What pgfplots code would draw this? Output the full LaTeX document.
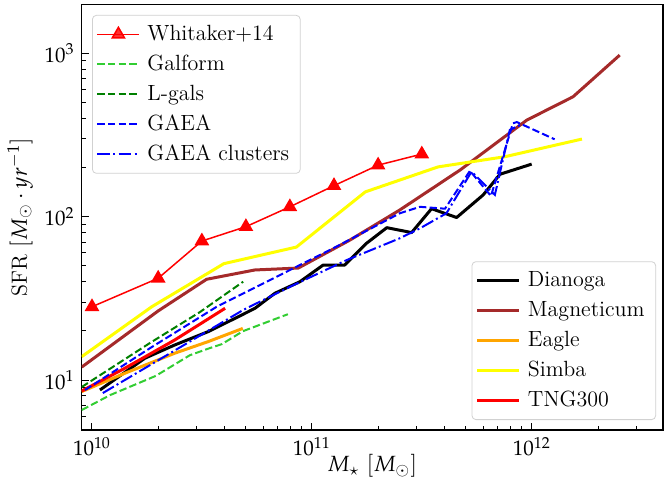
\documentclass[border=0pt]{standalone}
\usepackage{mathpazo}
\usepackage{pgfplots}
\pgfplotsset{compat=1.18}

\definecolor{limegreen}{HTML}{32CD32}
\definecolor{mplgreen}{HTML}{008000}
\definecolor{mplbrown}{HTML}{A52A2A}
\definecolor{mplorange}{HTML}{FFA500}
\definecolor{mplyellow}{HTML}{FFFF00}

\tikzset{
  simline/.style={line width=1.5pt, line join=round},
  samline/.style={line width=1pt, dash pattern=on 3.7pt off 1.6pt},
  samdashdot/.style={line width=1pt, dash pattern=on 6.4pt off 1.6pt on 1pt off 1.6pt},
}

% shared frame for both overlaid axes
\pgfplotsset{
  every axis/.append style={
    xmode=log, ymode=log,
    xmin=8.98e9, xmax=3.95e12, ymin=4.94, ymax=2000,
    scale only axis, width=290.7pt, height=212.9pt,
    tick align=inside, xtick pos=bottom, ytick pos=left,
    xtick={1e10,1e11,1e12}, ytick={10,100,1000},
    minor xtick={2e10,3e10,4e10,5e10,6e10,7e10,8e10,9e10,
                 2e11,3e11,4e11,5e11,6e11,7e11,8e11,9e11,2e12,3e12},
    minor ytick={6,7,8,9,20,30,40,50,60,70,80,90,200,300,400,500,600,700,800,900},
    major tick length=3.5pt, minor tick length=2pt,
    every tick/.style={black, line width=0.5pt},
    axis line style={line width=0.6pt},
    tick label style={font=\fontsize{10.5}{12.6}\selectfont},
    label style={font=\fontsize{11}{13.2}\selectfont},
    legend cell align=left,
    legend style={draw=black!18, rounded corners=2pt, fill=white,
      fill opacity=0.8, text opacity=1, inner xsep=2pt, inner ysep=2pt,
      font=\fontsize{11}{13.2}\selectfont,
      nodes={inner xsep=3.5pt, inner ysep=2pt, text height=8.5pt, text depth=2.5pt}},
    legend image code/.code={%
      \draw[mark repeat=2,mark phase=2,##1] plot coordinates {(0pt,0pt) (10.5pt,0pt) (21pt,0pt)};},
  },
}

\begin{document}
\begin{tikzpicture}
% simulations
\begin{axis}[
  xlabel={$M_{\star}\ [M_{\odot}]$},
  ylabel={SFR $[M_{\odot} \cdot yr^{-1}]$},
  xlabel style={at={(axis description cs:0.5,-0.0846)}, anchor=center},
  ylabel style={at={(axis description cs:-0.106,0.5)}, anchor=center},
  legend style={at={(0.988,0.0235)}, anchor=south east},
]
\addplot[simline, black] coordinates {
 (1.087e10,8.69) (1.74e10,13.6) (2.38e10,16.4) (3.38e10,19.8) (4.62e10,24.4)
 (5.51e10,27.5) (6.79e10,34.0) (8.82e10,40.0) (1.125e11,50.6) (1.41e11,50.6)
 (1.77e11,68.7) (2.19e11,85.7) (2.84e11,80.0) (3.5e11,112) (4.55e11,98.9)
 (6.01e11,136) (7.16e11,182) (9.98e11,210)};
\addlegendentry{Dianoga}
\addplot[simline, mplbrown] coordinates {
 (8.98e9,12.0) (2.0e10,26.5) (3.32e10,41.4) (5.5e10,47.2) (8.67e10,48.5)
 (1.49e11,72) (2.51e11,110) (4.71e11,193) (9.5e11,391) (1.54e12,543) (2.51e12,977)};
\addlegendentry{Magneticum}
\addplot[simline, mplorange] coordinates {
 (8.98e9,8.5) (1.41e10,11.0) (2.38e10,14.6) (3.38e10,17.2) (4.85e10,20.7)};
\addlegendentry{Eagle}
\addplot[simline, mplyellow] coordinates {
 (8.98e9,13.9) (1.87e10,28.1) (3.98e10,51.6) (8.5e10,65.2) (1.75e11,142)
 (3.75e11,202) (7.53e11,233) (1.69e12,299)};
\addlegendentry{Simba}
\addplot[simline, red] coordinates {
 (8.98e9,8.57) (1.41e10,11.8) (2.38e10,17.6) (4.03e10,27.5)};
\addlegendentry{TNG300}
\end{axis}

% observations and semi-analytic models
\begin{axis}[hide axis,
  legend style={at={(0.0177,0.975)}, anchor=north west},
]
\addplot[red, line width=0.75pt, mark=triangle*, mark size=3.5pt,
  mark options={solid}] coordinates {
 (1.0e10,28.1) (2.0e10,42) (3.16e10,71) (5.01e10,86.9) (7.94e10,115)
 (1.26e11,155) (2.0e11,207) (3.16e11,242)};
\addlegendentry{Whitaker+14}
\addplot[samline, limegreen] coordinates {
 (8.98e9,6.55) (1.21e10,8.09) (1.95e10,10.6) (2.79e10,14.2) (3.44e10,15.7)
 (3.9e10,16.6) (4.85e10,19.9) (7.78e10,25.3)};
\addlegendentry{Galform}
\addplot[samline, mplgreen] coordinates {
 (8.98e9,9.06) (1.84e10,16.9) (3.1e10,26.1) (4.87e10,40.0)};
\addlegendentry{L-gals}
\addplot[samline, blue] coordinates {
 (9.3e9,8.69) (1.84e10,15.7) (3.69e10,28.1) (8.51e10,49.4) (1.29e11,65.5)
 (2.51e11,105) (3.1e11,115) (4.03e11,112) (5.23e11,191) (6.52e11,134)
 (8.2e11,373) (8.55e11,380) (1.27e12,298)};
\addlegendentry{GAEA}
\addplot[samdashdot, blue] coordinates {
 (1.12e10,8.32) (4.88e10,26.9) (7.94e10,37.2) (1.44e11,54.3) (2.51e11,73.8)
 (3.1e11,84.9) (4.09e11,105) (5.32e11,189) (6.79e11,136) (7.94e11,340) (8.82e11,364)};
\addlegendentry{GAEA clusters}
\end{axis}

\pgfresetboundingbox
\path[use as bounding box]
  ([xshift=-40.85pt,yshift=-29pt]current axis.south west)
  rectangle ([xshift=1pt,yshift=2.15pt]current axis.north east);
\end{tikzpicture}
\end{document}
